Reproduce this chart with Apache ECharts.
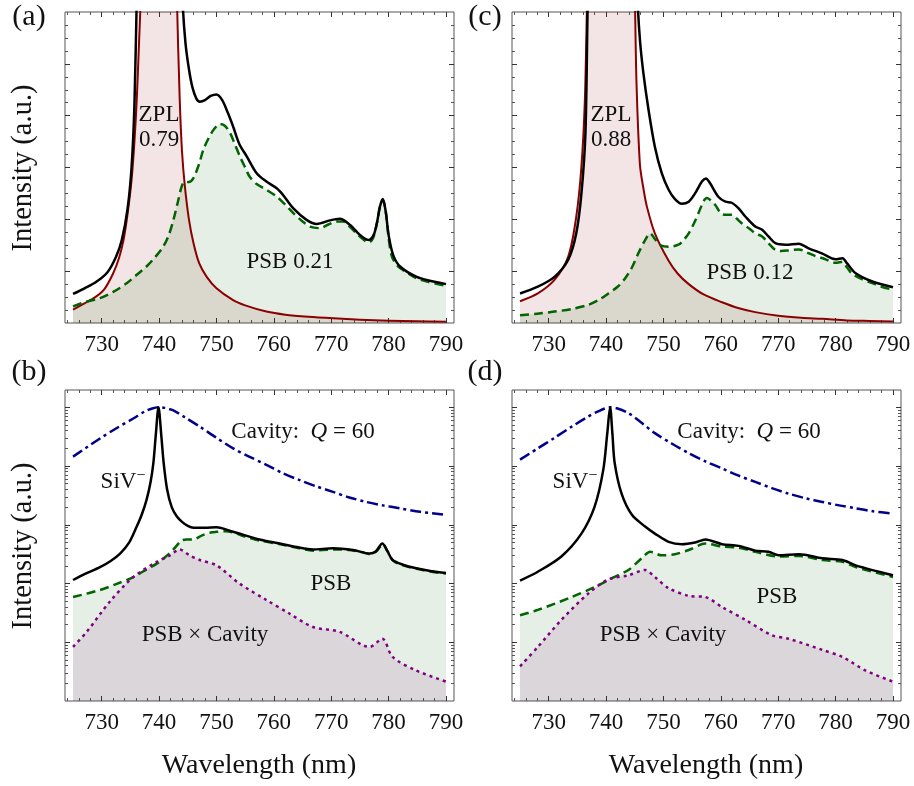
<!DOCTYPE html>
<html><head><meta charset="utf-8">
<script src="https://cdn.jsdelivr.net/npm/echarts@6/dist/echarts.min.js"></script>
<style>html,body{margin:0;padding:0;background:#fff}#c{width:914px;height:786px}</style>
</head><body><div id="c"></div>
<script>
// ---------- tick values ----------
const X_MAJOR = [730, 740, 750, 760, 770, 780, 790];
const X_MINOR = [724, 726, 728, 732, 734, 736, 738, 742, 744, 746, 748, 752, 754, 756, 758, 762, 764, 766, 768, 772, 774, 776, 778, 782, 784, 786, 788];
const Y_LIN_MAJOR = [1, 2, 3, 4, 5];
const Y_LIN_MINOR = [0.25, 0.5, 0.75, 1.25, 1.5, 1.75, 2.25, 2.5, 2.75, 3.25, 3.5, 3.75, 4.25, 4.5, 4.75, 5.25, 5.5, 5.75];
const Y_LOG_MAJOR = [1e-4, 1e-3, 1e-2, 1e-1, 1];
const Y_LOG_MINOR = [2e-5, 3e-5, 4e-5, 5e-5, 6e-5, 7e-5, 8e-5, 9e-5, 2e-4, 3e-4, 4e-4, 5e-4, 6e-4, 7e-4, 8e-4, 9e-4,
  2e-3, 3e-3, 4e-3, 5e-3, 6e-3, 7e-3, 8e-3, 9e-3, 2e-2, 3e-2, 4e-2, 5e-2, 6e-2, 7e-2, 8e-2, 9e-2,
  0.2, 0.3, 0.4, 0.5, 0.6, 0.7, 0.8, 0.9];

// ---------- panel (a): linear ----------
const A_ZPL = [[725,0.26],[727,0.38],[729,0.51],[730.5,0.66],[732,0.96],[733,1.25],[733.8,1.6],[734.5,2.1],[735.2,2.76],[735.7,3.5],[736.1,4.3],[736.5,5.4],[736.8,6.3],[737.5,10],[738.5,20],[740,40],[741.5,20],[742.5,10],[743.1,6.3],[743.6,4.3],[744,3.3],[744.5,2.63],[745.2,2.0],[746,1.54],[747,1.15],[748.3,0.89],[750,0.67],[752.9,0.44],[755,0.34],[758.7,0.22],[762,0.16],[766,0.12],[770.4,0.09],[775,0.065],[780,0.045],[785,0.032],[790,0.022]];
const A_PSB = [[725,0.32],[727,0.40],[729.7,0.48],[732,0.60],[734.4,0.77],[736,0.92],[737.8,1.09],[739.3,1.27],[740.7,1.47],[741.7,1.7],[742.5,1.99],[743.3,2.35],[743.9,2.62],[744.4,2.72],[745.2,2.72],[746,2.80],[747,3.08],[747.7,3.34],[748.6,3.56],[749.5,3.73],[750.6,3.84],[751.5,3.80],[752.4,3.66],[753.2,3.45],[754.1,3.21],[755,3.0],[755.8,2.82],[757,2.68],[758.7,2.57],[760.5,2.44],[762,2.28],[763.4,2.12],[765,1.96],[766.3,1.86],[768,1.83],[769.5,1.90],[770.9,1.96],[772.1,1.96],[773.2,1.86],[774.4,1.73],[775.5,1.62],[776.5,1.55],[777.3,1.64],[778,1.95],[778.5,2.25],[779,2.37],[779.5,2.15],[780,1.65],[780.5,1.31],[781.2,1.15],[782,1.06],[783.5,0.95],[784.9,0.86],[787,0.79],[790,0.72]];
const A_TOT = [[725,0.56],[727,0.67],[729,0.79],[731,0.98],[732.5,1.28],[733.5,1.6],[734.5,2.2],[735.2,3.0],[735.7,4.2],[736.1,6.2],[737,10],[738.5,25],[740,50],[741.5,25],[743,10],[744.1,6.2],[744.6,5.4],[745.2,4.9],[745.8,4.55],[746.5,4.33],[747.1,4.27],[748,4.30],[749,4.38],[750,4.41],[751,4.30],[752,4.05],[752.9,3.79],[754,3.45],[755.3,3.21],[757,2.89],[758.7,2.73],[760.5,2.60],[761.6,2.47],[763.4,2.21],[765.7,1.99],[767.5,1.91],[769.8,1.98],[771.5,2.01],[773.3,1.89],[775,1.70],[776.5,1.60],[777.4,1.70],[778,1.95],[778.5,2.25],[779,2.39],[779.5,2.15],[780,1.70],[780.8,1.31],[782,1.09],[784.9,0.89],[787.8,0.80],[790,0.75]];

// ---------- panel (c): linear ----------
const C_ZPL = [[725,0.42],[728.1,0.57],[731,0.83],[733.4,1.28],[734.8,2.05],[735.7,3.02],[736.3,4.3],[736.7,6.3],[737.5,10],[739,20],[740.8,40],[742.5,20],[744,10],[745,6.3],[745.3,4.63],[745.9,3.05],[746.5,2.6],[747.1,2.25],[748.5,1.73],[750.9,1.2],[752.5,0.95],[754.4,0.75],[757,0.55],[760.2,0.40],[763,0.29],[766,0.21],[770,0.14],[774,0.10],[777.7,0.08],[782,0.05],[786,0.04],[790,0.03]];
const C_PSB = [[725,0.15],[728,0.18],[731,0.22],[734,0.27],[736.9,0.35],[738.8,0.45],[740.4,0.57],[742,0.70],[743.3,0.86],[744.5,1.07],[745.6,1.34],[746.8,1.60],[747.7,1.73],[748.5,1.62],[749.5,1.50],[750.9,1.47],[752.6,1.51],[753.5,1.6],[754.4,1.73],[755.3,1.92],[756.1,2.12],[757,2.35],[757.6,2.41],[758.3,2.36],[759,2.28],[760.2,2.10],[761,2.09],[761.9,2.09],[762.8,2.01],[763.7,1.92],[765,1.82],[766,1.73],[767.2,1.67],[768.3,1.54],[769.5,1.41],[770.5,1.39],[771.8,1.40],[773.6,1.42],[775,1.36],[776.5,1.29],[778,1.24],[780,1.16],[781.2,1.18],[782,1.07],[782.9,0.95],[784.5,0.85],[786.4,0.77],[788,0.70],[790,0.64]];
const C_TOT = [[725,0.57],[728.1,0.70],[731,0.89],[733.4,1.22],[734.8,1.73],[735.7,2.50],[736.4,3.66],[736.8,6.2],[738,12],[740.8,50],[743.5,12],[745.5,6.2],[745.9,5.46],[746.5,4.82],[747.4,4.11],[748.5,3.40],[749.7,2.89],[750.9,2.57],[752,2.39],[753.2,2.30],[754.4,2.34],[755.5,2.50],[756.7,2.73],[757.4,2.79],[758.1,2.70],[759.6,2.43],[760.8,2.34],[761.9,2.32],[763.1,2.21],[764.3,2.05],[766,1.86],[767.2,1.80],[768.3,1.67],[769.5,1.54],[771.3,1.51],[773.6,1.53],[775.3,1.44],[777.7,1.34],[780,1.23],[781.2,1.25],[782,1.15],[783.5,0.96],[786.4,0.80],[790,0.69]];

// ---------- panel (b): log ----------
const B_CAV = [[725,0.1445],[729.7,0.2951],[732.5,0.4365],[735.5,0.6457],[737.5,0.8511],[738.8,0.955],[740,1],[741,0.977],[742.4,0.891],[744.5,0.676],[747.1,0.468],[750,0.302],[752.9,0.1995],[755.5,0.148],[758.7,0.1047],[761.5,0.0759],[764.5,0.0575],[767.5,0.0447],[770.3,0.0363],[773,0.0295],[776.1,0.0245],[779,0.0214],[781.9,0.0191],[785.5,0.0166],[790,0.0148]];
const B_SIV = [[725,1.148e-3],[727,1.445e-3],[729.7,1.905e-3],[731.5,2.399e-3],[733.2,3.236e-3],[734.8,5.012e-3],[736.1,9.333e-3],[737,0.01514],[737.8,0.0263],[738.5,0.0525],[739,0.1122],[739.4,0.3162],[739.9,1],[740.4,0.3162],[740.8,0.1122],[741.4,0.0398],[742.2,0.01995],[743.1,0.0138],[744,0.01122],[745,9.55e-3],[746,8.91e-3],[748,8.91e-3],[750,9.12e-3],[752.9,7.59e-3],[755,6.61e-3],[757.5,5.62e-3],[761,4.79e-3],[764,4.17e-3],[766.8,3.80e-3],[770.3,3.98e-3],[773.8,3.72e-3],[776.7,3.24e-3],[777.8,3.55e-3],[778.9,4.79e-3],[779.8,3.55e-3],[780.7,2.51e-3],[782.5,2.09e-3],[784.8,1.82e-3],[787.5,1.62e-3],[790,1.51e-3]];
const B_PSB = [[725,5.89e-4],[729.7,7.76e-4],[732.5,9.77e-4],[735.5,1.288e-3],[738,1.778e-3],[740.1,2.344e-3],[741.3,2.951e-3],[742.4,3.715e-3],[743.9,5.37e-3],[744.8,5.62e-3],[745.9,5.62e-3],[747.5,6.61e-3],[749,7.41e-3],[750,7.59e-3],[751.5,7.76e-3],[752.9,7.41e-3],[755,6.31e-3],[757.6,5.37e-3],[761.1,4.68e-3],[764,4.07e-3],[766.9,3.63e-3],[768.5,3.72e-3],[770.4,3.80e-3],[772,3.80e-3],[773.8,3.63e-3],[775.5,3.39e-3],[776.7,3.16e-3],[777.8,3.47e-3],[779,4.68e-3],[779.8,3.55e-3],[780.8,2.45e-3],[782.5,2.04e-3],[784.9,1.78e-3],[787.5,1.585e-3],[790,1.48e-3]];
const B_PXC = [[725,8.32e-5],[727.4,1.514e-4],[731.4,4.90e-4],[735.5,1.288e-3],[739.6,2.344e-3],[741.9,3.02e-3],[743.6,3.80e-3],[745.3,3.02e-3],[747.1,2.51e-3],[750,2.04e-3],[754,1.0e-3],[758.7,5.25e-4],[762.7,3.09e-4],[766.8,1.82e-4],[771.4,1.514e-4],[776.7,8.32e-5],[778.9,1.148e-4],[780.7,5.62e-5],[784.8,3.31e-5],[790,2.14e-5]];

// ---------- panel (d): log ----------
const D_CAV = [[725,0.1288],[728.1,0.1995],[731,0.302],[734,0.468],[736.5,0.661],[738.6,0.851],[740.7,1],[742,0.955],[743.9,0.794],[746,0.562],[748.5,0.363],[751.5,0.240],[754.4,0.166],[757.3,0.1202],[760.2,0.0912],[763,0.0692],[766,0.0537],[769,0.0417],[771.8,0.0339],[774.8,0.0282],[777.7,0.0245],[780.6,0.0214],[783.5,0.0191],[786.5,0.0170],[790,0.0155]];
const D_SIV = [[725,1.122e-3],[728.1,1.585e-3],[732.2,2.884e-3],[735.7,7.08e-3],[738,0.0204],[739.5,0.0851],[740.2,0.355],[740.7,1],[741.1,0.355],[741.5,0.1122],[742.7,0.0339],[744.5,0.01479],[746.8,9.33e-3],[748.5,7.08e-3],[750.9,5.13e-3],[753.2,4.68e-3],[755.5,5.01e-3],[757.3,5.62e-3],[760.2,4.68e-3],[763.1,4.37e-3],[766,3.63e-3],[768.3,3.47e-3],[770.1,3.02e-3],[773.6,3.16e-3],[777.7,2.69e-3],[781.2,2.51e-3],[783.5,2.04e-3],[790,1.38e-3]];
const D_PSB = [[725,2.88e-4],[728.1,3.55e-4],[734,5.89e-4],[738,8.71e-4],[741,1.23e-3],[743.9,1.70e-3],[746.2,2.69e-3],[747.7,3.47e-3],[749.7,3.02e-3],[752,3.16e-3],[754.4,3.72e-3],[757.3,4.79e-3],[760.2,4.27e-3],[763.1,4.07e-3],[766,3.47e-3],[770.1,2.88e-3],[773.6,2.95e-3],[777.7,2.51e-3],[781.2,2.34e-3],[783.5,1.905e-3],[790,1.29e-3]];
const D_PXC = [[725,3.89e-5],[728.1,8.32e-5],[732.2,2.40e-4],[736.9,6.76e-4],[740.4,1.175e-3],[743.9,1.38e-3],[746.8,1.70e-3],[748.5,1.29e-3],[750.9,8.32e-4],[754.4,6.17e-4],[757.3,5.89e-4],[760.2,3.98e-4],[764.3,2.40e-4],[768.9,1.318e-4],[771.8,1.148e-4],[777.7,7.41e-5],[781.2,5.62e-5],[785.2,3.31e-5],[790,2.14e-5]];

// ---------- layout / style ----------
const FONT = 'Liberation Serif';
const X_MIN = 723.6, X_MAX = 791.4;
const LIN_MIN = 0, LIN_MAX = 6;
const LOG_MIN = 1e-5, LOG_MAX = 1.97;
const GRIDS = [
  {left: 65, top: 12, width: 389, height: 311},
  {left: 65, top: 390, width: 389, height: 311},
  {left: 512, top: 12, width: 389, height: 311},
  {left: 512, top: 390, width: 389, height: 311}
];
const C_RED = '#8b0000', C_GREEN = '#006400', C_BLUE = '#00008b', C_PURPLE = '#800080', C_BLACK = '#000000';
const F_RED = 'rgba(139,0,0,0.1)', F_GREEN = 'rgba(0,100,0,0.1)', F_PURPLE = 'rgba(128,0,128,0.1)';

const xAxes = [], yAxes = [], series = [];
const majorTick = {color: '#333', width: 1};
const minorTick = {color: '#555', width: 1};

function addAxes(g, logY) {
  const xb = {gridIndex: g, type: 'value', min: X_MIN, max: X_MAX, axisLine: {show: false, onZero: false}, splitLine: {show: false}};
  const xi = xAxes.length;
  xAxes.push(Object.assign({}, xb, {position: 'bottom',
    axisTick: {show: true, inside: true, length: 5, customValues: X_MAJOR, lineStyle: majorTick},
    axisLabel: {show: true, customValues: X_MAJOR, margin: 10, fontFamily: FONT, fontSize: 23, color: '#111'}}));
  xAxes.push(Object.assign({}, xb, {position: 'bottom',
    axisTick: {show: true, inside: true, length: 3, customValues: X_MINOR, lineStyle: minorTick}, axisLabel: {show: false}}));
  xAxes.push(Object.assign({}, xb, {position: 'top',
    axisTick: {show: true, inside: true, length: 5, customValues: X_MAJOR, lineStyle: majorTick}, axisLabel: {show: false}}));
  xAxes.push(Object.assign({}, xb, {position: 'top',
    axisTick: {show: true, inside: true, length: 3, customValues: X_MINOR, lineStyle: minorTick}, axisLabel: {show: false}}));
  const yb = logY
    ? {gridIndex: g, type: 'log', logBase: 10, min: LOG_MIN, max: LOG_MAX, axisLine: {show: false, onZero: false}, splitLine: {show: false}}
    : {gridIndex: g, type: 'value', min: LIN_MIN, max: LIN_MAX, axisLine: {show: false, onZero: false}, splitLine: {show: false}};
  const maj = logY ? Y_LOG_MAJOR : Y_LIN_MAJOR, mnr = logY ? Y_LOG_MINOR : Y_LIN_MINOR;
  const yi = yAxes.length;
  ['left', 'right'].forEach(function (pos) {
    yAxes.push(Object.assign({}, yb, {position: pos,
      axisTick: {show: true, inside: true, length: 5, customValues: maj, lineStyle: majorTick}, axisLabel: {show: false}}));
    yAxes.push(Object.assign({}, yb, {position: pos,
      axisTick: {show: true, inside: true, length: 3, customValues: mnr, lineStyle: minorTick}, axisLabel: {show: false}}));
  });
  return {xi: xi, yi: yi};
}

function fill(ax, data, color) {
  series.push({type: 'line', xAxisIndex: ax.xi, yAxisIndex: ax.yi, data: data, symbol: 'none', smooth: 0.3,
    silent: true, lineStyle: {opacity: 0, width: 0}, areaStyle: {color: color, opacity: 1, origin: 'start'}, z: 1});
}
function line(ax, data, color, width, type, z) {
  series.push({type: 'line', xAxisIndex: ax.xi, yAxisIndex: ax.yi, data: data, symbol: 'none', smooth: 0.3,
    silent: true, lineStyle: {color: color, width: width, type: type, cap: 'butt', join: 'round'}, z: z || 3});
}

// panel (a)
let ax = addAxes(0, false);
fill(ax, A_ZPL, F_RED); fill(ax, A_PSB, F_GREEN);
line(ax, A_ZPL, C_RED, 2); line(ax, A_PSB, C_GREEN, 2.5, [9, 5]); line(ax, A_TOT, C_BLACK, 2.5, 'solid', 4);
// panel (b)
ax = addAxes(1, true);
fill(ax, B_PSB, F_GREEN); fill(ax, B_PXC, F_PURPLE);
line(ax, B_PSB, C_GREEN, 2.5, [9, 5]); line(ax, B_PXC, C_PURPLE, 2.5, [3, 4]);
line(ax, B_CAV, C_BLUE, 2.5, [11, 4, 3, 4]); line(ax, B_SIV, C_BLACK, 2.5, 'solid', 4);
// panel (c)
ax = addAxes(2, false);
fill(ax, C_ZPL, F_RED); fill(ax, C_PSB, F_GREEN);
line(ax, C_ZPL, C_RED, 2); line(ax, C_PSB, C_GREEN, 2.5, [9, 5]); line(ax, C_TOT, C_BLACK, 2.5, 'solid', 4);
// panel (d)
ax = addAxes(3, true);
fill(ax, D_PSB, F_GREEN); fill(ax, D_PXC, F_PURPLE);
line(ax, D_PSB, C_GREEN, 2.5, [9, 5]); line(ax, D_PXC, C_PURPLE, 2.5, [3, 4]);
line(ax, D_CAV, C_BLUE, 2.5, [11, 4, 3, 4]); line(ax, D_SIV, C_BLACK, 2.5, 'solid', 4);

// ---------- text ----------
function txt(text, x, y, size, extra) {
  const style = Object.assign({text: text, x: 0, y: 0, fill: '#111', font: size + 'px "' + FONT + '"',
    align: 'center', verticalAlign: 'middle', textAlign: 'center', textVerticalAlign: 'middle'}, extra || {});
  return {type: 'text', x: x, y: y, style: style, z: 100, silent: true};
}
const rich = {
  n: {fontFamily: FONT, fontSize: 23, color: '#111'},
  q: {fontFamily: FONT, fontSize: 23, fontStyle: 'italic', color: '#111'},
  s: {fontFamily: FONT, fontSize: 16, color: '#111', padding: [0, 0, 12, 0]}
};
const graphics = [
  txt('(a)', 29, 17, 30), txt('(c)', 485, 17, 30), txt('(b)', 29, 372, 30), txt('(d)', 485, 372, 30),
  txt('ZPL', 159, 115, 23), txt('0.79', 159, 140, 23), txt('PSB 0.21', 290, 262, 23),
  txt('ZPL', 611, 115, 23), txt('0.88', 611, 140, 23), txt('PSB 0.12', 750, 273, 23),
  txt('{n|Cavity:  }{q|Q}{n| = 60}', 303, 432, 23, {rich: rich}),
  txt('{n|SiV}{s|\u2212}', 123, 482, 23, {rich: rich}),
  txt('PSB', 331, 584, 23), txt('PSB \u00d7 Cavity', 205, 635, 23),
  txt('{n|Cavity:  }{q|Q}{n| = 60}', 749, 432, 23, {rich: rich}),
  txt('{n|SiV}{s|\u2212}', 575, 482, 23, {rich: rich}),
  txt('PSB', 777, 597, 23), txt('PSB \u00d7 Cavity', 663, 635, 23),
  Object.assign(txt('Intensity (a.u.)', 24, 168, 28.5), {rotation: Math.PI / 2}),
  Object.assign(txt('Intensity (a.u.)', 24, 546, 28.5), {rotation: Math.PI / 2}),
  txt('Wavelength (nm)', 259, 766, 28), txt('Wavelength (nm)', 706, 766, 28)
];

const chart = echarts.init(document.getElementById('c'), null, {renderer: 'canvas'});
chart.setOption({
  animation: false,
  backgroundColor: '#fff',
  grid: GRIDS.map(function (g) { return Object.assign({show: true, borderColor: '#555', borderWidth: 1, backgroundColor: 'transparent', containLabel: false, outerBoundsMode: 'none'}, g); }),
  xAxis: xAxes, yAxis: yAxes, series: series, graphic: graphics
});
</script></body></html>
